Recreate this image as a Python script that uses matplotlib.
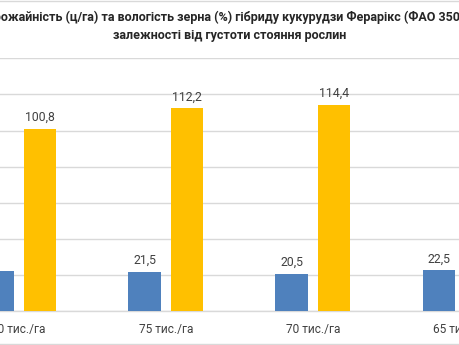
import matplotlib
matplotlib.use("Agg")
import matplotlib.pyplot as plt
import numpy as np

categories = ["80 тис./га", "75 тис./га", "70 тис./га", "65 тис./га"]
moisture = [22.4, 21.5, 20.5, 22.5]       # blue series, %
yield_vals = [100.8, 112.2, 114.4, 109.5]  # yellow series, ц/га
title_lines = ["Урожайність (ц/га) та вологість зерна (%) гібриду кукурудзи Ферарікс (ФАО 350) в",
               "залежності від густоти стояння рослин"]

plt.rcParams['font.family'] = ['Roboto', 'DejaVu Sans']

W, H = 460, 345
fig = plt.figure(figsize=(W/100, H/100), dpi=100)

base_px = 311.0
top_px = 58.3
ax = fig.add_axes([0, (H-base_px)/H, 1, (base_px-top_px)/H])

sp = 153.0
c0 = 19.5
ax.set_xlim((0-c0)/sp, (W-c0)/sp)
ax.set_ylim(0, 140)

x = np.arange(len(categories))
bw = 34/sp
off = 22/sp
blue = "#4F81BD"
yellow = "#FFC000"
b1 = ax.bar(x-off, moisture, bw, color=blue, zorder=3)
b2 = ax.bar(x+off, yield_vals, bw, color=yellow, zorder=3)

lab_col = "#404040"
for bars, vals in ((b1, moisture), (b2, yield_vals)):
    for r, v in zip(bars, vals):
        ax.annotate(f"{v:.1f}".replace(".", ","), (r.get_x()+r.get_width()/2, v),
                    xytext=(0, 5), textcoords="offset pixels", ha="center", va="bottom",
                    fontsize=8.8, color=lab_col)

ax.set_yticks(np.arange(0, 141, 20))
ax.yaxis.grid(True, color="#d9d9d9", linewidth=1, zorder=0)
ax.tick_params(axis="y", left=False, labelleft=False)
ax.set_xticks(x)
ax.set_xticklabels(categories, fontsize=8.6, color=lab_col)
ax.tick_params(axis="x", length=0, pad=9)
for s in ["top", "right", "left"]:
    ax.spines[s].set_visible(False)
ax.spines["bottom"].set_color("#d9d9d9")
ax.spines["bottom"].set_linewidth(1)

fig.text(0.5, 1-17.5/H, title_lines[0], ha="center", va="center", fontsize=9.0,
         fontweight="bold", color="#262626")
fig.text(0.5, 1-35.5/H, title_lines[1], ha="center", va="center", fontsize=9.0,
         fontweight="bold", color="#262626")

# chart border edges visible in crop
fig.add_artist(plt.Line2D([0, 1], [1-1/H, 1-1/H], transform=fig.transFigure, color="#d9d9d9", lw=1))
fig.add_artist(plt.Line2D([0, 1], [1.5/H, 1.5/H], transform=fig.transFigure, color="#d9d9d9", lw=1))

fig.savefig("out.png", dpi=100)
